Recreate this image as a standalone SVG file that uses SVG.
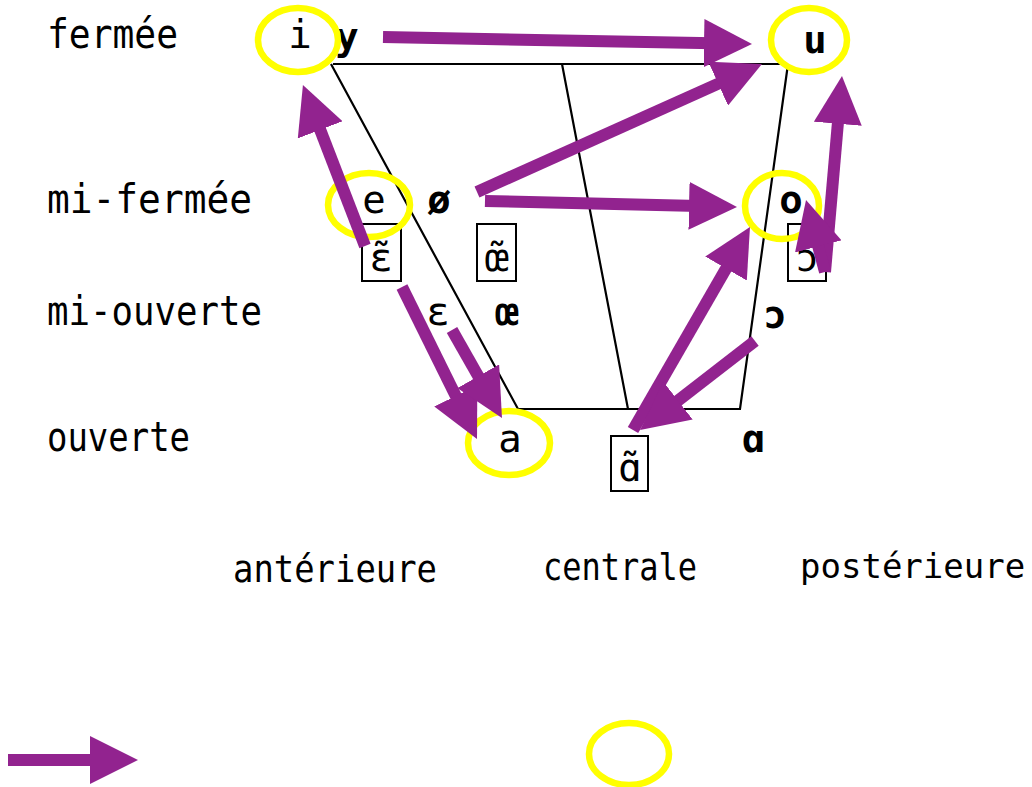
<svg xmlns="http://www.w3.org/2000/svg" width="1032" height="787" viewBox="0 0 1032 787">
<style>
.lbl{font-family:"DejaVu Sans Mono","Liberation Mono",monospace;font-size:40px;fill:#000}
.axis{font-family:"DejaVu Sans Mono","Liberation Mono",monospace;font-size:38px;fill:#000}
.v{font-family:"DejaVu Sans Mono","Liberation Mono",monospace;font-size:39px;fill:#000;text-anchor:middle}
.b{font-weight:bold}
.chart{stroke:#000;stroke-width:2.2;fill:none}
.box{stroke:#000;stroke-width:2;fill:none}
.ring{stroke:#ffff00;stroke-width:6.5;fill:none}
.arr{stroke:#92238f;stroke-width:12;fill:none;marker-end:url(#head)}
</style>
<defs>
<marker id="head" markerUnits="userSpaceOnUse" viewBox="0 0 48 48" markerWidth="48" markerHeight="48" refX="10" refY="24" orient="auto">
<path d="M0,0 L48,24 L0,48 Z" fill="#92238f"/>
</marker>
</defs>
<rect width="1032" height="787" fill="#fff"/>
<g id="chart">
<path class="chart" d="M333,64 H788 M331,64 L518,409 H740 L788,64 M562,64 L628,409"/>
</g>
<g id="labels">
<text class="lbl" x="47" y="48" textLength="131" lengthAdjust="spacingAndGlyphs">fermée</text>
<text class="lbl" x="47" y="213" textLength="205" lengthAdjust="spacingAndGlyphs">mi-fermée</text>
<text class="lbl" x="47" y="325" textLength="215" lengthAdjust="spacingAndGlyphs">mi-ouverte</text>
<text class="lbl" x="47" y="451" textLength="143" lengthAdjust="spacingAndGlyphs">ouverte</text>
<text class="axis" x="233" y="582" textLength="204" lengthAdjust="spacingAndGlyphs">antérieure</text>
<text class="axis" x="543" y="580" textLength="154" lengthAdjust="spacingAndGlyphs">centrale</text>
<text class="axis" x="800" y="578" style="font-size:34px">postérieure</text>
</g>
<g id="v-i"><text class="v" x="300" y="48">i</text></g>
<g id="v-y"><text class="v b" x="347" y="50">y</text></g>
<g id="v-u"><text class="v b" x="815" y="53">u</text></g>
<g id="v-e"><text class="v" x="374" y="213">e</text></g>
<g id="v-oe-slash"><text class="v b" x="439" y="213">ø</text></g>
<g id="v-o"><text class="v b" x="791" y="213">o</text></g>
<g id="v-eps-nasal"><rect class="box" x="362" y="224" width="39" height="57"/><text class="v" x="381" y="271">ɛ̃</text></g>
<g id="v-oe-nasal"><rect class="box" x="477" y="224" width="39" height="57"/><text class="v" x="497" y="271">œ̃</text></g>
<g id="v-open-o-nasal"><rect class="box" x="788" y="224" width="38" height="57"/><text class="v" x="807" y="271">ɔ̃</text></g>
<g id="v-eps"><text class="v" x="438" y="325">ɛ</text></g>
<g id="v-oe"><text class="v b" x="507" y="325">œ</text></g>
<g id="v-open-o"><text class="v b" x="775" y="328">ɔ</text></g>
<g id="v-a"><text class="v" x="510" y="452">a</text></g>
<g id="v-alpha-nasal"><rect class="box" x="611" y="436" width="37" height="55"/><text class="v" x="630" y="481">ɑ̃</text></g>
<g id="v-alpha"><text class="v b" x="753" y="452">ɑ</text></g>
<g id="rings">
<ellipse class="ring" cx="298" cy="40" rx="40" ry="32"/>
<ellipse class="ring" cx="809" cy="40" rx="38" ry="32"/>
<ellipse class="ring" cx="369" cy="205" rx="41" ry="32"/>
<ellipse class="ring" cx="782" cy="206" rx="37" ry="33"/>
<ellipse class="ring" cx="509" cy="443" rx="41" ry="32"/>
</g>
<g id="connectors">
<line class="arr" x1="383" y1="37" x2="714" y2="43.3"/>
<line class="arr" x1="477" y1="192" x2="727.3" y2="79.6"/>
<line class="arr" x1="485" y1="201" x2="699" y2="206.1"/>
<line class="arr" x1="365" y1="246" x2="316.6" y2="120.5"/>
<line class="arr" x1="402" y1="287" x2="460.2" y2="404.9"/>
<line class="arr" x1="452" y1="330" x2="483.2" y2="384.9"/>
<line class="arr" x1="633" y1="430" x2="731" y2="259.9"/>
<line class="arr" x1="755" y1="341" x2="670.1" y2="406.7"/>
<line class="arr" x1="825" y1="272" x2="838.7" y2="113.8"/>
<line class="arr" x1="825" y1="272" x2="815.7" y2="236.7"/>
</g>
<g id="legend">
<line class="arr" x1="8" y1="760" x2="100" y2="760"/>
<ellipse class="ring" cx="629" cy="754" rx="40" ry="31"/>
</g>
</svg>
